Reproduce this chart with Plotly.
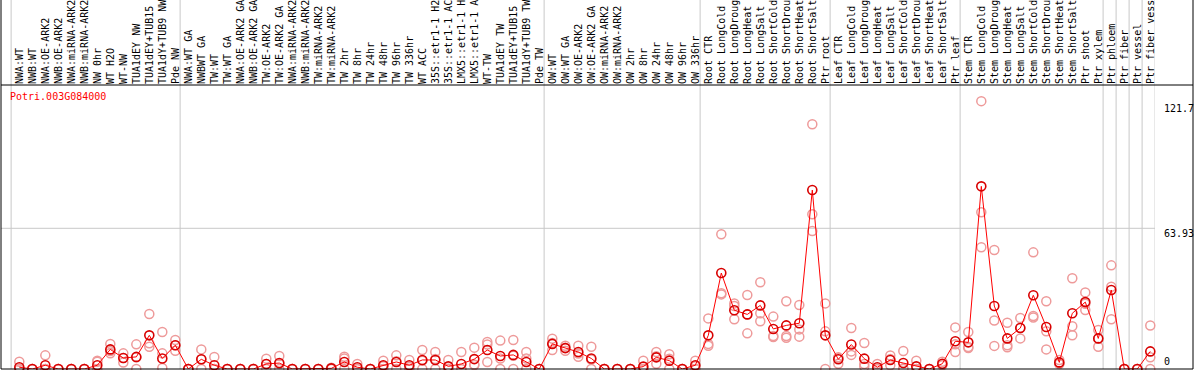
import plotly.graph_objects as go

categories = [
    "NWA:WT", "NWB:WT", "NWA:OE-ARK2", "NWB:OE-ARK2", "NWA:miRNA-ARK2", "NWB:miRNA-ARK2",
    "NW 0hr", "WT H2O", "WT-NW", "TUA1dEY NW", "TUA1dEY+TUB15 NW", "TUA1dY+TUB9 NW", "Pde NW",
    "NWA:WT GA", "NWBWT GA", "TW:WT", "TW:WT GA", "NWA:OE-ARK2 GA", "NWB:OE-ARK2 GA",
    "TW:OE-ARK2", "TW:OE-ARK2 GA", "NWA:miRNA-ARK2", "NWB:miRNA-ARK2", "TW:miRNA-ARK2",
    "TW:miRNA-ARK2", "TW 2hr", "TW 8hr", "TW 24hr", "TW 48hr", "TW 96hr", "TW 336hr", "WT ACC",
    "35S::etr1-1 H2O", "35S::etr1-1 ACC", "LMX5::etr1-1 H2O", "LMX5::etr1-1 ACC", "WT-TW",
    "TUA1dEY TW", "TUA1dEY+TUB15 TW", "TUA1dY+TUB9 TW", "Pde TW",
    "OW:WT", "OW:WT GA", "OW:OE-ARK2", "OW:OE-ARK2 GA", "OW:miRNA-ARK2", "OW:miRNA-ARK2",
    "OW 2hr", "OW 8hr", "OW 24hr", "OW 48hr", "OW 96hr", "OW 336hr",
    "Root CTR", "Root LongCold", "Root LongDrought", "Root LongHeat", "Root LongSalt",
    "Root ShortCold", "Root ShortDrought", "Root ShortHeat", "Root ShortSalt", "Ptr root",
    "Leaf CTR", "Leaf LongCold", "Leaf LongDrought", "Leaf LongHeat", "Leaf LongSalt",
    "Leaf ShortCold", "Leaf ShortDrought", "Leaf ShortHeat", "Leaf ShortSalt", "Ptr leaf",
    "Stem CTR", "Stem LongCold", "Stem LongDrought", "Stem LongHeat", "Stem LongSalt",
    "Stem ShortCold", "Stem ShortDrought", "Stem ShortHeat", "Stem ShortSalt", "Ptr shoot",
    "Ptr xylem", "Ptr phloem", "Ptr fiber", "Ptr vessel", "Ptr fiber vessel",
]

mean_values = [
    0.8, 0, 1.7, 0, 0, 0, 1.7, 8.9, 5.0, 5.5, 15.3, 4.8, 10.8,
    0, 4.4, 1.7, 0, 0, 0, 2.3, 2.7, 0, 0, 0, 0.3, 3.2, 0.8, 0, 1.7, 3.2, 1.7, 4.1,
    4.1, 1.2, 2.3, 4.5, 8.6, 5.9, 6.4, 3.2, 0,
    11.4, 9.5, 7.7, 4.8, 0, 0, 0, 1.1, 5.3, 3.8, 0, 1.7,
    15.3, 43.6, 26.7, 24.8, 28.9, 18.2, 19.8, 20.8, 81.3, 15.3,
    4.4, 11.1, 4.7, 0.8, 4.1, 2.7, 1.2, 0, 2.4, 12.6,
    12.1, 83.0, 28.6, 13.9, 18.6, 33.5, 19.1, 3.0, 25.3, 30.4, 13.9,
    35.9, 0, 0, 8.0,
]

rep1 = [
    3.3, 0, 6.2, 0, 0, 0, 3.8, 11.4, 7.1, 11.2, 25.0, 16.8, 13.2,
    0, 8.9, 5.5, 0, 0, 0, 4.7, 5.9, 0, 0, 0, 0.3, 5.6, 2.3, 0, 3.8, 6.2, 4.1, 8.6,
    7.7, 4.1, 7.7, 9.7, 12.3, 12.9, 13.2, 7.7, 0,
    13.8, 10.6, 10.6, 10.1, 0, 0, 0, 3.8, 7.7, 6.7, 0, 3.8,
    23.0, 61.2, 22.6, 33.6, 39.4, 23.8, 30.8, 29.1, 111.2, 29.8,
    5.3, 18.6, 11.8, 2.3, 6.1, 8.2, 3.8, 0, 3.3, 18.9,
    16.8, 121.7, 54.1, 21.0, 23.2, 53.0, 30.8, 4.1, 41.2, 34.8, 17.7,
    47.1, 0, 0, 19.8,
]

rep2 = [
    0, 0, 0, 0, 0, 0, 3.3, 7.1, 2.9, 0, 11.7, 7.1, 8.3,
    0, 0, 0, 0, 0, 0, 0, 0, 0, 0, 0, 0, 4.8, 0, 0, 0, 3.5, 0, 0,
    0, 0, 0, 1.8, 11.1, 0, 0, 4.8, 0,
    8.6, 8.3, 5.6, 0, 0, 0, 0, 0, 2.4, 0, 0, 0,
    11.4, 34.4, 29.8, 16.2, 21.7, 15.0, 15.0, 18.0, 70.3, 17.1,
    2.4, 6.4, 2.3, 0, 1.7, 0.3, 0, 0, 1.7, 7.7,
    9.5, 71.2, 22.0, 10.8, 13.9, 24.1, 17.1, 2.3, 19.4, 26.8, 10.1,
    37.4, 0, 0, 5.3,
]

rep3 = [
    0, 0, 0, 0, 0, 0, 0, 8.2, 5.0, 5.3, 10.1, 0.5, 10.8,
    0, 4.4, 0, 0, 0, 0, 2.3, 2.3, 0, 0, 0, 0.6, 0, 0, 0, 1.3, 0, 1.0, 3.8,
    4.5, 0, 0, 2.0, 3.2, 4.8, 6.0, 0, 0,
    11.8, 9.6, 7.0, 4.3, 0, 0, 0, 0, 5.8, 4.7, 0, 1.3,
    10.6, 33.9, 28.6, 24.9, 25.3, 14.5, 14.2, 14.7, 62.7, 0,
    5.0, 8.0, 1.1, 0, 4.5, 0, 0, 0, 2.2, 11.2,
    10.0, 55.3, 10.5, 9.9, 18.7, 23.4, 8.9, 2.6, 15.3, 29.6, 13.9,
    22.6, 0, 0, 0,
]

gene_label = "Potri.003G084000"
ytick_vals = [121.73, 63.93, 0]
ytick_text = ["121.7", "63.93", "0"]
group_starts = [0, 13, 41, 53, 63, 73, 84, 85, 86, 87, 88]

FONT = "DejaVu Sans Mono"
x = list(range(len(categories)))

fig = go.Figure()
rep_x = x * 3
rep_y = rep1 + rep2 + rep3
fig.add_trace(go.Scatter(
    x=rep_x, y=rep_y, mode="markers", cliponaxis=False, hoverinfo="skip",
    marker=dict(symbol="circle-open", size=9, color="#EE9A9A", line=dict(width=1.5, color="#EE9A9A")),
    showlegend=False,
))
fig.add_trace(go.Scatter(
    x=x, y=mean_values, mode="lines+markers", cliponaxis=False, hoverinfo="skip",
    line=dict(color="#FF0000", width=1),
    marker=dict(symbol="circle-open", size=9, color="#D80000", line=dict(width=1.6, color="#D80000")),
    showlegend=False,
))

shapes = []
for s in group_starts:
    shapes.append(dict(type="line", xref="x", yref="paper", x0=s - 0.63, x1=s - 0.63,
                       y0=0, y1=1.31, line=dict(color="#C8C8C8", width=1), layer="below"))
shapes.append(dict(type="line", xref="paper", yref="y", x0=0, x1=1, y0=ytick_vals[1], y1=ytick_vals[1],
                   line=dict(color="#C8C8C8", width=1), layer="below"))
R = (1193 - 1) / 1154.0
for sh in [
    dict(x0=0, x1=0, y0=0, y1=1.31),
    dict(x0=R, x1=R, y0=0, y1=1.31),
    dict(x0=0, x1=R, y0=1, y1=1),
    dict(x0=0, x1=R, y0=0, y1=0),
]:
    shapes.append(dict(type="line", xref="paper", yref="paper", line=dict(color="black", width=1), **sh))

annotations = [dict(text=gene_label, xref="paper", yref="paper", x=0, y=1, xanchor="left", yanchor="top",
                    xshift=7, yshift=-4, showarrow=False, font=dict(family=FONT, size=10, color="#FF0000"))]
for v, t in zip(ytick_vals, ytick_text):
    annotations.append(dict(text=t, xref="paper", yref="y", x=1, y=v, xanchor="left",
                            yanchor="bottom" if v == 0 else "top", yshift=(2 if v == ytick_vals[1] else 0),
                            xshift=7, showarrow=False, font=dict(family=FONT, size=10, color="black")))

fig.update_layout(
    width=1194, height=370,
    margin=dict(l=1, r=39, t=85, b=1, pad=0),
    paper_bgcolor="white", plot_bgcolor="white",
    hovermode=False,
    shapes=shapes, annotations=annotations,
    xaxis=dict(side="top", range=[-1.408, 87.362], tickmode="array", tickvals=x, ticktext=categories,
               tickangle=-90, tickfont=dict(family=FONT, size=10, color="black"), showgrid=False,
               zeroline=False, showline=False, ticks="", automargin=False, fixedrange=True),
    yaxis=dict(range=[0, 129.04], showticklabels=False, showgrid=False, zeroline=False,
               showline=False, ticks="", automargin=False, fixedrange=True),
)

fig.write_html(
    "out.html",
    config={"displayModeBar": False, "staticPlot": True},
    post_script="document.body.style.margin='0px';document.body.style.overflow='hidden';",
)
